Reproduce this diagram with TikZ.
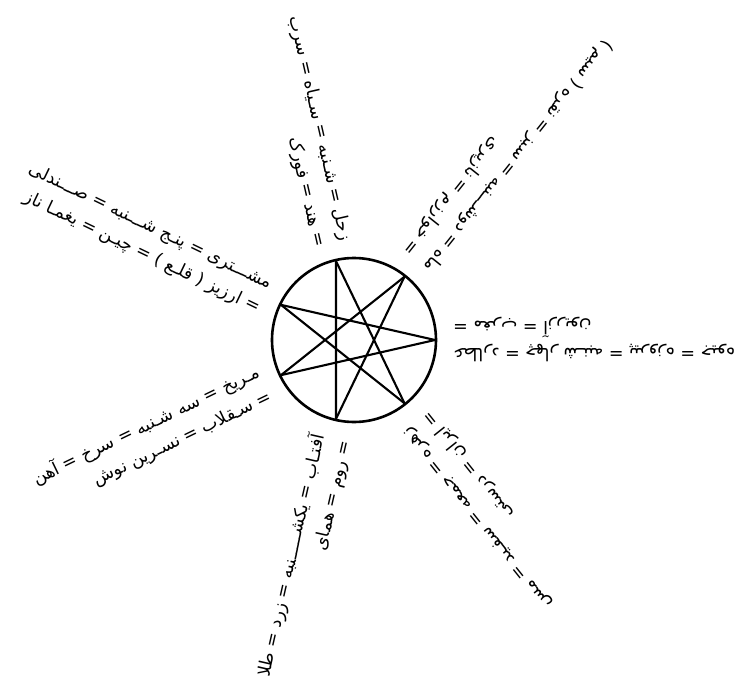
\documentclass[tikz,border=0pt]{standalone}
\usepackage{fontspec}
\usepackage{tikz}
\newfontfamily\arabicfont[Script=Arabic]{DejaVu Sans}
\TeXXeTstate=1
\usetikzlibrary{
    calc
}
\tikzset{
  ring/.style     = {draw, circle, line width=2.6pt, minimum size=164pt,
                     inner sep=0pt},
  starline/.style = {line width=2.1pt, line cap=round},
  ray/.style      = {anchor=east, align=right, inner sep=0pt,
                     font=\arabicfont\fontsize{17.5}{27}\selectfont}
}
\newcommand{\fa}[1]{\beginR #1\endR}

\begin{document}
\begin{tikzpicture}[x=1pt, y=1pt]
    \useasboundingbox (-354,-351) rectangle (387,340);
    \node[ring] (ring) at (0,0) {};

    % heptagram 7/3
    \foreach \i in {0,...,6}
      \coordinate (v\i) at ({\i*360/7}:81);
    \foreach \i in {0,...,6}{
      \pgfmathtruncatemacro{\j}{mod(\i+3,7)}
      \draw[starline] (v\i) -- (v\j);
    }

    % planets
    \node[ray, rotate=180]      (mercury) at (0:99)      {\fa{عطارد = چهار شـنبه = پیروزه = جیوه}\\\fa{= مغرب = آزریون}};
    \node[ray, rotate=231.43]   (moon)    at (51.43:100) {\fa{ماه = دوشـــنبه = سبز = نقره ( سیم )}\\\fa{= خوارزم = نازپری}};
    \node[ray, rotate=282.86]   (saturn)  at (102.86:99) {\fa{زحل = شـنبه = سـیاه = سرب}\\\fa{= هند = فورک}};
    \node[ray, rotate=334.29]   (jupiter) at (154.29:99) {\fa{مشـــتری = پنـج شـــنبه = صـــندلی}\\\fa{= ارزیز ( قلـع ) = چیـن = یغمـا ناز}};
    \node[ray, rotate=25.71]    (mars)    at (205.71:99) {\fa{مـریخ = سه شـنبه = سرخ = آهن}\\\fa{= سـقلاب = نسـرین نوش}};
    \node[ray, rotate=77.14]    (sun)     at (257.14:100) {\fa{آفتـاب = یکشـــــنبه = زرد = طلا}\\\fa{= روم = همای}};
    \node[ray, rotate=128.57]   (venus)   at (308.57:102) {\fa{زهره = جمعه = سفـید = مس}\\\fa{= ایران = درستی}};
\end{tikzpicture}
\end{document}
